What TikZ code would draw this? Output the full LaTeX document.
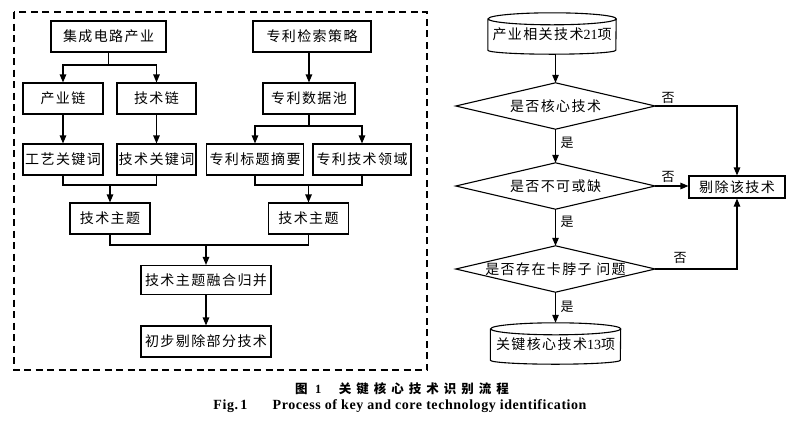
\documentclass[tikz,border=0pt]{standalone}
\usepackage{fontspec}
\setmainfont{Liberation Serif}
\newfontfamily\cjk{Noto Sans CJK SC}[LetterSpace=10]
\newfontfamily\cjkcap{Noto Sans CJK SC}[LetterSpace=40]
\usetikzlibrary{arrows.meta}
\begin{document}
\begin{tikzpicture}[x=1pt,y=-1pt,
  box/.style={draw, line width=1.1pt, inner sep=0pt, minimum height=31pt, font=\fontsize{14}{16}\selectfont\cjk},
  plain/.style={inner sep=0pt, minimum height=31pt, font=\fontsize{14}{16}\selectfont\cjk},
  dia/.style={inner sep=0pt, minimum width=199pt, minimum height=46pt, font=\fontsize{14}{16}\selectfont\cjk},
  ln/.style={line width=1.1pt},
  arr/.style={line width=1.1pt, -{Triangle[length=8pt,width=6.5pt]}},
  lbl/.style={inner sep=0pt, font=\fontsize{13}{15}\selectfont\cjk}]
\fill[white] (0,0) rectangle (800,424);
\useasboundingbox (0,0) rectangle (800,424);
% dashed frame
\draw[line width=1.1pt, dash pattern=on 7pt off 4.5pt] (14,12) rectangle (427,370);
% left part
\node[box, minimum width=115pt] (a1) at (108.5,36.5) {集成电路产业};
\node[box, minimum width=118pt] (a2) at (312,36.5) {专利检索策略};
\node[box, minimum width=80pt] (b1) at (63,98.5) {产业链};
\node[box, minimum width=79pt] (b2) at (156.5,98.5) {技术链};
\node[box, minimum width=92pt] (b3) at (309,98.5) {专利数据池};
\node[box, minimum width=80pt] (c1) at (63,159.5) {工艺关键词};
\node[box, minimum width=79pt] (c2) at (156.5,159.5) {技术关键词};
\node[box, minimum width=97pt] (c3) at (255,159.5) {专利标题摘要};
\node[box, minimum width=98pt] (c4) at (362,159.5) {专利技术领域};
\node[box, minimum width=80pt] (d1) at (110,218.5) {技术主题};
\node[box, minimum width=80pt] (d2) at (308.5,218.5) {技术主题};
\node[box, minimum width=130pt, minimum height=29pt] (e) at (206,280) {技术主题融合归并};
\node[box, minimum width=130pt] (f) at (206,341.5) {初步剔除部分技术};
\coordinate (j1) at (108.5,65);
\coordinate (j2) at (309,126);
\coordinate (j3) at (110,185);
\coordinate (j4) at (308.5,185);
\coordinate (j5) at (206,245);
\draw[ln] (a1.south) -- (j1);
\draw[arr] (j1) -| (b1.north);
\draw[arr] (j1) -| (b2.north);
\draw[arr] (b1) -- (c1);
\draw[arr] (b2) -- (c2);
\draw[arr] (b3.north |- a2.south) -- (b3.north);
\draw[ln] (b3.south) -- (j2);
\draw[arr] (j2) -| (c3.north);
\draw[arr] (j2) -| (c4.north);
\draw[ln] (c1.south) |- (j3) -| (c2.south);
\draw[arr] (j3) -- (d1.north);
\draw[ln] (c3.south) |- (j4) -| (c4.south);
\draw[arr] (j4) -- (d2.north);
\draw[ln] (d1.south) |- (j5) -| (d2.south);
\draw[arr] (j5) -- (e.north);
\draw[arr] (e) -- (f);
% right part
\node[plain, minimum width=128pt] (s1) at (552,34.5) {产业相关技术{\rmfamily 21}项};
\draw[ln] (s1.north west) -- (s1.south west) arc[start angle=180,end angle=360,x radius=64pt,y radius=4pt] -- (s1.north east) arc[start angle=0,end angle=360,x radius=64pt,y radius=6pt];
\node[dia] (q1) at (555.5,106) {是否核心技术};
\draw[ln] (q1.west) -- (q1.north) -- (q1.east) -- (q1.south) -- cycle;
\node[dia] (q2) at (555.5,186) {是否不可或缺};
\draw[ln] (q2.west) -- (q2.north) -- (q2.east) -- (q2.south) -- cycle;
\node[dia] (q3) at (555.5,269) {是否存在卡脖子 问题};
\draw[ln] (q3.west) -- (q3.north) -- (q3.east) -- (q3.south) -- cycle;
\node[box, minimum width=96pt, minimum height=22pt] (r) at (737,187) {剔除该技术};
\node[plain, minimum width=130pt] (s2) at (555.5,344.5) {关键核心技术{\rmfamily 13}项};
\draw[ln] (s2.north west) -- (s2.south west) arc[start angle=180,end angle=360,x radius=65pt,y radius=4pt] -- (s2.north east) arc[start angle=0,end angle=360,x radius=65pt,y radius=6pt];
\coordinate (s1b) at ([yshift=-4pt]s1.south);
\draw[arr] (s1b -| q1.north) -- (q1.north);
\draw[arr] (q1.south) -- (q2.north);
\draw[arr] (q2.south) -- (q3.north);
\draw[arr] (q3.south) -- ([yshift=6pt]s2.north);
\draw[arr] (q1.east) -| (r.north);
\draw[arr] (q2.east) -- (r.west |- q2.east);
\draw[arr] (q3.east) -| (r.south);
\node[lbl] (n1) at (668,98) {否};
\node[lbl] (n2) at (668,177) {否};
\node[lbl] (n3) at (680,258) {否};
\node[lbl] (y1) at (567,143) {是};
\node[lbl] (y2) at (567,222) {是};
\node[lbl] (y3) at (567,307) {是};
% captions
\node[inner sep=0pt, font=\fontsize{12.5}{14}\selectfont\cjkcap\bfseries] (cap1) at (402,389) {图\hspace{0.6em}{\rmfamily\bfseries 1}\hspace{1.4em}关键核心技术识别流程};
\node[inner sep=0pt, font=\fontsize{14}{16}\selectfont\bfseries\addfontfeature{LetterSpace=4}] (cap2) at (400,406) {Fig.\,1\hspace{1.8em}Process of key and core technology identification};
\end{tikzpicture}
\end{document}
